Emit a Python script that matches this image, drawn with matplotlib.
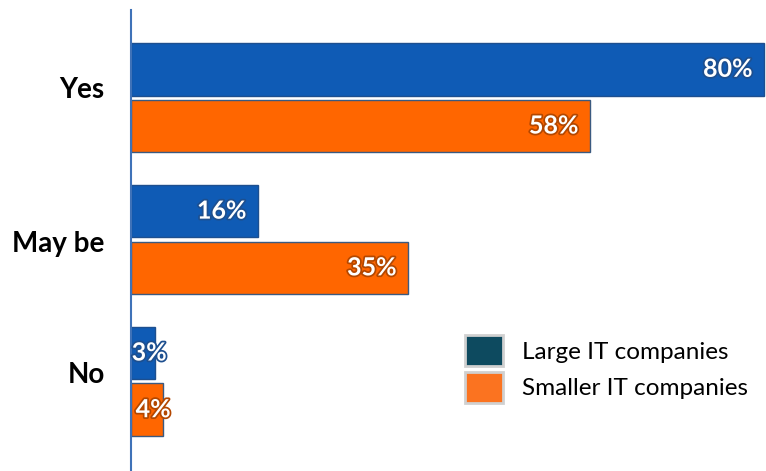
import matplotlib
matplotlib.use('Agg')

import numpy as np
import matplotlib.pyplot as plt
import matplotlib.patheffects as pe
from matplotlib.patches import Patch

plt.rcParams['font.family'] = ['Lato', 'DejaVu Sans']

categories = ['Yes', 'May be', 'No']
large_it = [80, 16, 3]
smaller_it = [58, 35, 4]
series_names = ['Large IT companies', 'Smaller IT companies']

blue = '#0f5bb5'
orange = '#ff6600'

fig = plt.figure(figsize=(7.66, 4.71), dpi=100)
ax = fig.add_axes([131 / 766, 0, 1 - 131 / 766, 461 / 471])

y = np.arange(len(categories))
h = 0.37
ax.barh(y - 0.195, large_it, height=h, color=blue, edgecolor='#1d4f8f', linewidth=1)
ax.barh(y + 0.205, smaller_it, height=h, color=orange, edgecolor='#3b5a80', linewidth=1)

# value labels inside the bars
for vals, off, col in [(large_it, -0.195, '#1d4f8f'), (smaller_it, 0.205, '#b34700')]:
    for i, v in enumerate(vals):
        if v >= 10:
            x, ha = v - 1.4, 'right'
        else:
            x, ha = v / 2 + 0.8, 'center'
        ax.text(x, i + off, f'{v}%', ha=ha, va='center', color='white',
                fontsize=18, fontweight='bold',
                path_effects=[pe.withStroke(linewidth=2.5, foreground=col)])

ax.set_xlim(0, 80.3)
ax.set_ylim(2 + 0.637, -0.613)
ax.set_yticks(y + np.array([-0.07, 0.02, -0.06]))
ax.set_yticklabels(categories, fontsize=20, fontweight='bold')
ax.tick_params(axis='y', length=0, pad=19)
ax.set_xticks([])
for s in ['top', 'right', 'bottom']:
    ax.spines[s].set_visible(False)
ax.spines['left'].set_color('#3f72b8')
ax.spines['left'].set_linewidth(1.5)

handles = [Patch(facecolor='#0d4a5f', edgecolor='#d0d0d0', linewidth=2),
           Patch(facecolor='#fb7320', edgecolor='#d0d0d0', linewidth=2)]
ax.legend(handles, series_names, loc='upper left', bbox_to_anchor=(0.526, 0.295),
          frameon=False, fontsize=17.5, handlelength=1.55, handleheight=1.6,
          handletextpad=0.8, labelspacing=0.22, borderpad=0, borderaxespad=0)

fig.savefig('out.png', dpi=100)
